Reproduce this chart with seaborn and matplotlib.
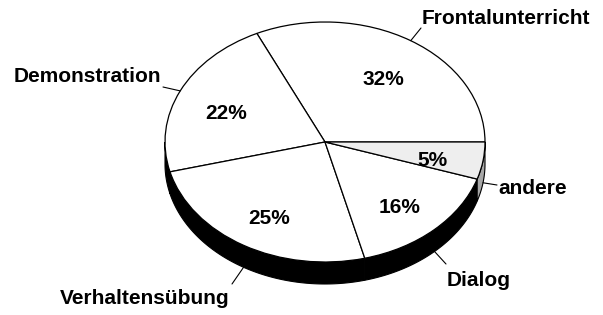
import numpy as np
import matplotlib
matplotlib.use("Agg")
import matplotlib.pyplot as plt
import seaborn as sns
from matplotlib.patches import Polygon

# ---- data ----
categories = ["Frontalunterricht", "Demonstration", "Verhaltensübung", "Dialog", "andere"]
shares = [32, 22, 25, 16, 5]
face_colors = ["white", "white", "white", "white", "#eeeeee"]
side_colors = ["black", "black", "black", "black", "#a8a8a8"]

sns.set_theme(style="white")
plt.rcParams['font.family'] = ['Liberation Sans', 'DejaVu Sans']

W, H = 603, 315
fig = plt.figure(figsize=(W / 100, H / 100), dpi=100)
ax = fig.add_axes([0, 0, 1, 1])

# layout (pixels, y from top)
CX, CY, RX, RY = 325, 142, 160, 120
DEPTH = 22 / RY


def to_data(xp, yp):
    return ((xp - CX) / RX, (CY - yp) / RY)


wedges, texts, autotexts = ax.pie(
    shares, colors=face_colors, startangle=0, counterclock=True,
    autopct=lambda p: f"{p:.0f}%", pctdistance=0.68,
    wedgeprops=dict(edgecolor="black", linewidth=0.9, zorder=2),
    textprops=dict(fontsize=15, fontweight="bold", color="black"),
)
for t in autotexts:
    t.set_zorder(5)
    px_, py_ = t.get_position()
    t.set_position((px_, py_ - 6 / RY))

# side (depth) of the visible front half
cum = np.concatenate([[0], np.cumsum(shares)]) / sum(shares) * 360.0
for i in range(len(shares)):
    a1, a2 = max(cum[i], 180.0), min(cum[i + 1], 360.0)
    if a2 <= a1:
        continue
    t = np.radians(np.linspace(a1, a2, 100))
    top = np.column_stack([np.cos(t), np.sin(t)])
    bot = np.column_stack([np.cos(t), np.sin(t) - DEPTH])[::-1]
    ax.add_patch(Polygon(np.vstack([top, bot]), closed=True, facecolor=side_colors[i],
                         edgecolor="black", linewidth=0.8, zorder=1))

# outer labels with leader lines
label_pos = [(422, 18), (161, 76), (145, 298), (447, 281), (498, 188)]
label_ha = ["left", "right", "center", "left", "left"]
leader_end = [(421, 28), (163, 87), (232, 284), (446, 264), (497, 185)]
for i, name in enumerate(categories):
    m = np.radians((cum[i] + cum[i + 1]) / 2)
    sx, sy = np.cos(m), np.sin(m)
    if sy < 0:
        sy -= DEPTH
    ex, ey = to_data(*leader_end[i])
    ax.plot([sx, ex], [sy, ey], color="black", linewidth=0.8, zorder=3)
    tx, ty = to_data(*label_pos[i])
    ax.text(tx, ty, name, ha=label_ha[i], va="center", fontsize=15,
            fontweight="bold", color="black")

ax.set_aspect("auto")
x0, y0 = to_data(0, H)
x1, y1 = to_data(W, 0)
ax.set_xlim(x0, x1)
ax.set_ylim(y0, y1)
ax.axis("off")

fig.savefig("out.png", dpi=100, facecolor="white")
